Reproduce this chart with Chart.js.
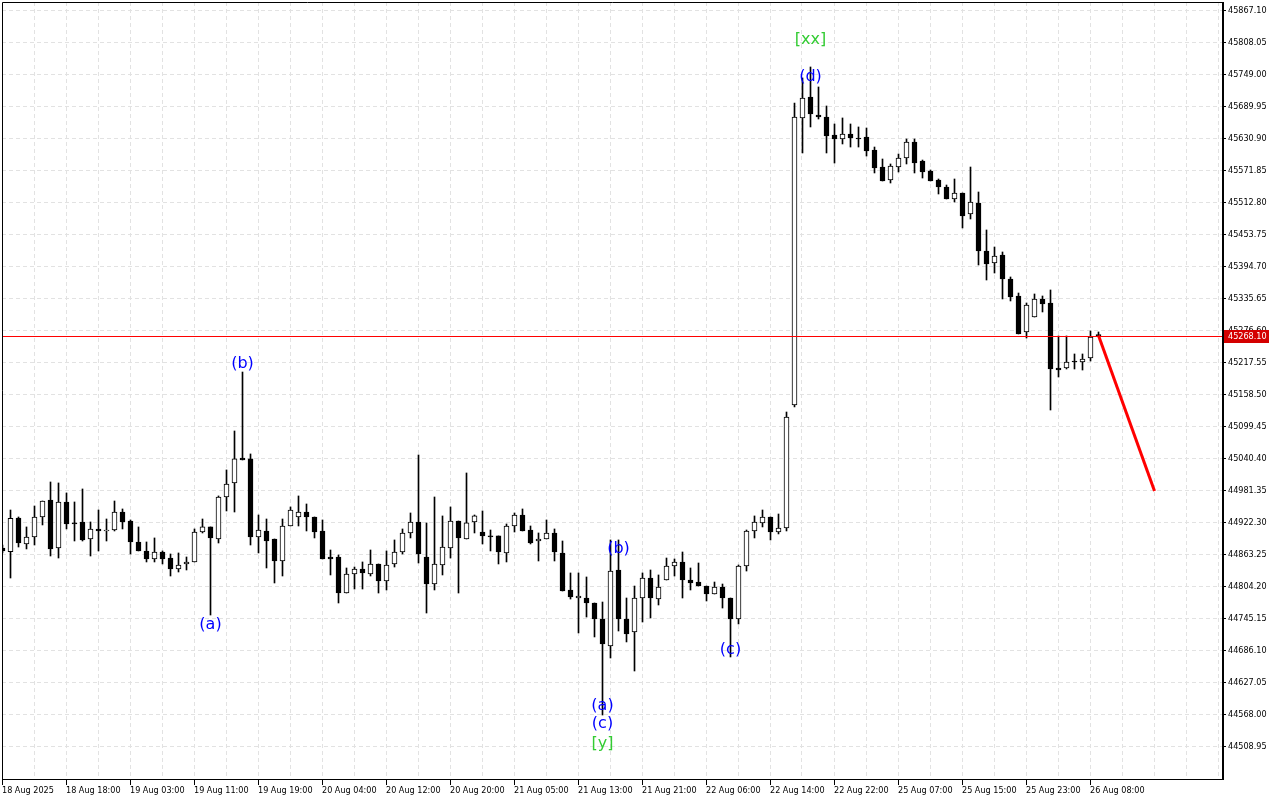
<!DOCTYPE html>
<html>
<head>
<meta charset="utf-8">
<script src="https://cdn.jsdelivr.net/npm/chart.js@4.4.1/dist/chart.umd.min.js"></script>
<style>
  html, body { margin: 0; padding: 0; background: #fff; }
  #wrap { width: 1280px; height: 800px; }
</style>
</head>
<body>
<div id="wrap"><canvas id="chart" width="1280" height="800"></canvas></div>
<script>
// H1 candles, one entry per bar (index 0 = left edge of the window)
const opens = [
  44876.2, 44869.4, 44931.6, 44883.6, 44896.5, 44933.4, 44964.8, 44876.2, 44961.1, 44922.4,
  44924.2, 44892.8, 44911.3, 44907.6, 44909.4, 44942.6, 44926.0, 44887.3, 44870.7, 44855.9,
  44868.8, 44857.7, 44837.4, 44846.7, 44850.4, 44905.7, 44915.0, 44892.8, 44970.3, 44996.2,
  45042.3, 45040.5, 44896.5, 44907.6, 44892.8, 44852.2, 44916.8, 44933.4, 44942.6, 44933.4,
  44907.6, 44859.6, 44859.6, 44793.1, 44828.2, 44837.4, 44828.2, 44846.7, 44815.3, 44846.7,
  44868.8, 44903.9, 44924.2, 44859.6, 44809.7, 44844.8, 44876.2, 44926.0, 44892.8, 44924.2,
  44905.7, 44898.4, 44898.4, 44867.0, 44916.8, 44937.1, 44909.4, 44889.1, 44892.8, 44903.9,
  44867.0, 44798.7, 44783.9, 44783.9, 44774.7, 44745.2, 44695.4, 44835.6, 44745.2, 44721.2,
  44783.9, 44820.8, 44782.0, 44817.1, 44843.0, 44850.4, 44817.1, 44813.4, 44806.0, 44791.3,
  44804.2, 44783.9, 44745.2, 44843.0, 44907.6, 44922.4, 44933.4, 44905.7, 44913.1, 45140.0,
  45669.7, 45708.4, 45675.2, 45671.5, 45638.3, 45630.9, 45640.1, 45632.7, 45634.6, 45610.6,
  45579.2, 45555.2, 45579.2, 45595.8, 45625.4, 45590.3, 45571.9, 45555.2, 45542.3, 45520.2,
  45531.3, 45492.5, 45512.8, 45424.2, 45402.1, 45416.9, 45372.6, 45341.2, 45274.8, 45302.4,
  45335.7, 45328.3, 45208.3, 45208.3, 45221.2, 45219.4, 45226.8, 45268.1
];
const highs = [
  44881.7, 44946.3, 44933.4, 44915.0, 44953.7, 44962.9, 44998.0, 44996.2, 44977.7, 44961.1,
  44985.1, 44924.2, 44946.3, 44929.7, 44962.9, 44948.2, 44927.9, 44915.0, 44887.3, 44894.7,
  44870.7, 44865.1, 44867.0, 44859.6, 44911.3, 44929.7, 44915.0, 44972.2, 45020.2, 45092.1,
  45200.9, 45049.7, 44937.1, 44929.7, 44892.8, 44929.7, 44951.9, 44972.2, 44957.4, 44933.4,
  44927.9, 44872.5, 44863.3, 44839.3, 44841.1, 44850.4, 44872.5, 44846.7, 44870.7, 44891.0,
  44911.3, 44940.8, 45047.8, 44922.4, 44970.3, 44935.3, 44951.9, 44926.0, 45014.6, 44937.1,
  44944.5, 44909.4, 44898.4, 44920.5, 44940.8, 44948.2, 44916.8, 44903.9, 44927.9, 44911.3,
  44889.1, 44830.1, 44830.1, 44822.7, 44774.7, 44776.5, 44891.0, 44891.0, 44783.9, 44806.0,
  44830.1, 44835.6, 44826.4, 44857.7, 44855.9, 44868.8, 44839.3, 44848.5, 44806.0, 44813.4,
  44809.7, 44783.9, 44844.8, 44909.4, 44935.3, 44946.3, 44933.4, 44938.9, 45127.1, 45697.3,
  45743.5, 45763.8, 45726.9, 45691.8, 45658.6, 45669.7, 45658.6, 45653.1, 45651.2, 45616.1,
  45594.0, 45584.8, 45603.2, 45630.9, 45630.9, 45592.1, 45573.7, 45557.1, 45546.0, 45557.1,
  45531.3, 45579.2, 45533.1, 45463.0, 45431.6, 45422.4, 45376.3, 45346.7, 45328.3, 45344.9,
  45341.2, 45352.3, 45267.4, 45267.4, 45234.2, 45234.2, 45276.6, 45274.8
];
const lows = [
  44867.0, 44820.8, 44878.0, 44874.4, 44881.7, 44918.7, 44861.4, 44857.7, 44911.3, 44889.1,
  44889.1, 44861.4, 44870.7, 44889.1, 44907.6, 44911.3, 44865.1, 44870.7, 44850.4, 44850.4,
  44846.7, 44824.5, 44831.9, 44835.6, 44850.4, 44903.9, 44752.5, 44885.4, 44944.5, 44942.6,
  45038.6, 44881.7, 44867.0, 44839.3, 44811.6, 44824.5, 44916.8, 44916.8, 44907.6, 44894.7,
  44855.9, 44826.4, 44774.7, 44793.1, 44800.5, 44800.5, 44824.5, 44793.1, 44798.7, 44841.1,
  44865.1, 44894.7, 44848.5, 44756.2, 44798.7, 44826.4, 44857.7, 44793.1, 44892.8, 44903.9,
  44883.6, 44870.7, 44846.7, 44850.4, 44905.7, 44907.6, 44883.6, 44852.2, 44892.8, 44852.2,
  44796.8, 44782.0, 44719.4, 44748.8, 44712.0, 44568.0, 44673.2, 44723.0, 44702.8, 44649.2,
  44739.6, 44747.0, 44771.0, 44817.1, 44824.5, 44783.9, 44798.7, 44806.0, 44778.4, 44791.3,
  44765.4, 44675.1, 44736.0, 44833.7, 44894.7, 44915.0, 44891.0, 44902.1, 44907.6, 45136.3,
  45605.1, 45653.1, 45667.8, 45605.1, 45586.6, 45621.7, 45616.1, 45616.1, 45599.5, 45568.2,
  45553.4, 45549.7, 45570.0, 45584.8, 45568.2, 45558.9, 45553.4, 45529.4, 45520.2, 45514.7,
  45466.7, 45483.3, 45398.4, 45370.7, 45383.6, 45335.7, 45332.0, 45271.1, 45263.7, 45302.4,
  45311.7, 45130.8, 45191.7, 45206.5, 45206.5, 45204.6, 45221.2, 45268.1
];
const closes = [
  44870.7, 44931.0, 44885.4, 44896.5, 44933.4, 44962.9, 44874.4, 44961.1, 44920.5, 44920.5,
  44891.0, 44911.3, 44907.6, 44909.4, 44942.6, 44924.2, 44887.3, 44870.7, 44855.9, 44868.8,
  44855.9, 44837.4, 44844.8, 44850.4, 44905.7, 44915.0, 44894.7, 44970.3, 44994.3, 45040.5,
  45038.6, 44896.5, 44909.4, 44889.1, 44852.2, 44916.8, 44946.3, 44942.6, 44933.4, 44905.7,
  44855.9, 44855.9, 44793.1, 44828.2, 44837.4, 44830.1, 44846.7, 44815.3, 44844.8, 44868.8,
  44903.9, 44924.2, 44865.1, 44809.7, 44846.7, 44878.0, 44926.0, 44894.7, 44922.4, 44935.3,
  44898.4, 44896.5, 44868.8, 44916.8, 44937.1, 44907.6, 44885.4, 44892.8, 44903.9, 44868.8,
  44796.8, 44785.7, 44787.6, 44774.7, 44745.2, 44699.1, 44833.7, 44745.2, 44717.5, 44783.9,
  44820.8, 44783.9, 44804.2, 44843.0, 44850.4, 44817.1, 44811.6, 44806.0, 44791.3, 44804.2,
  44783.9, 44745.2, 44843.0, 44907.6, 44924.2, 44933.4, 44905.7, 44913.1, 45117.9, 45671.5,
  45706.6, 45677.0, 45671.5, 45636.4, 45630.9, 45640.1, 45632.7, 45630.9, 45608.8, 45577.3,
  45553.4, 45581.1, 45595.8, 45625.4, 45586.6, 45570.0, 45553.4, 45542.3, 45520.2, 45531.3,
  45488.8, 45514.7, 45424.2, 45400.3, 45415.0, 45372.6, 45339.4, 45271.1, 45324.6, 45335.7,
  45326.4, 45206.5, 45204.6, 45219.4, 45219.4, 45224.9, 45265.5, 45268.1
];

// time axis labels, one every 8 bars
const tickLabels = [
  '18 Aug 2025', '18 Aug 18:00', '19 Aug 03:00', '19 Aug 11:00', '19 Aug 19:00', '20 Aug 04:00',
  '20 Aug 12:00', '20 Aug 20:00', '21 Aug 05:00', '21 Aug 13:00', '21 Aug 21:00', '22 Aug 06:00',
  '22 Aug 14:00', '22 Aug 22:00', '25 Aug 07:00', '25 Aug 15:00', '25 Aug 23:00', '26 Aug 08:00'
];
const priceTicks = [
  45867.10, 45808.05, 45749.00, 45689.95, 45630.90, 45571.85, 45512.80, 45453.75,
  45394.70, 45335.65, 45276.60, 45217.55, 45158.50, 45099.45, 45040.40, 44981.35,
  44922.30, 44863.25, 44804.20, 44745.15, 44686.10, 44627.05, 44568.00, 44508.95
];
const bidPrice = 45268.10;

// projected move (red arrow line)
const forecastBars = [137, 144];
const forecastPrices = [45268.1, 44981.4];

// wave marks
const waveTexts  = ['(a)', '(b)', '(a)', '(c)', '[y]', '(b)', '(c)', '(d)', '[xx]'];
const waveBars   = [26, 30, 75, 75, 75, 77, 91, 101, 101];
const wavePrices = [44734.1, 45216.6, 44584.7, 44551.4, 44515.4, 44874.4, 44688.9, 45746.2, 45813.6];

// ==========================================================================

const AXIS_FONT = { family: "'DejaVu Sans Condensed', 'DejaVu Sans', sans-serif", size: 9 };
const GRID_COLOR = '#e2e2e2';

const bodies = opens.map((o, i) => ({ x: i, y: [o, closes[i]] }));
const wicks = lows.map((l, i) => ({ x: i, y: [l, highs[i]] }));
const bodyFill = opens.map((o, i) => (closes[i] > o ? '#ffffff' : '#000000'));

// vertical grid every 4 bars, labels on every other one
const xGrid = [];
for (let v = -0.0625; v < 152.4375; v += 4) xGrid.push(v);
const hasLabel = (i) => i % 2 === 0 && i / 2 < tickLabels.length;

const overlay = {
  id: 'overlay',
  afterDatasetsDraw(chart) {
    const { ctx, chartArea: a, scales: { x, y } } = chart;
    ctx.save();
    const by = Math.round(y.getPixelForValue(bidPrice)) + 0.5;
    ctx.strokeStyle = '#ff0000';
    ctx.lineWidth = 1;
    ctx.beginPath();
    ctx.moveTo(a.left, by);
    ctx.lineTo(a.right, by);
    ctx.stroke();

    ctx.font = "16px 'DejaVu Sans', sans-serif";
    ctx.textAlign = 'center';
    ctx.textBaseline = 'middle';
    waveTexts.forEach((t, i) => {
      ctx.fillStyle = t[0] === '[' ? '#33cc33' : '#0000ff';
      ctx.fillText(t, x.getPixelForValue(waveBars[i]), y.getPixelForValue(wavePrices[i]));
    });
    ctx.restore();
  },
  afterDraw(chart) {
    const { ctx, chartArea: a, scales: { y } } = chart;
    ctx.save();
    // chart frame
    ctx.strokeStyle = '#000';
    ctx.lineWidth = 1;
    ctx.beginPath();
    ctx.moveTo(a.left + 0.5, a.bottom);
    ctx.lineTo(a.left + 0.5, a.top + 0.5);
    ctx.lineTo(a.right, a.top + 0.5);
    ctx.moveTo(a.left, a.bottom + 0.5);
    ctx.lineTo(a.right, a.bottom + 0.5);
    ctx.stroke();
    ctx.fillStyle = '#000';
    ctx.fillRect(a.right, a.top, 2, a.bottom - a.top + 1);

    // bid price tag
    const by = Math.round(y.getPixelForValue(bidPrice));
    ctx.fillStyle = '#d40000';
    ctx.fillRect(a.right + 2, by - 6, 45, 13);
    ctx.fillStyle = '#ffffff';
    ctx.font = "9px 'DejaVu Sans Condensed', 'DejaVu Sans', sans-serif";
    ctx.textAlign = 'left';
    ctx.textBaseline = 'middle';
    ctx.fillText(bidPrice.toFixed(2), a.right + 6, by + 0.5);
    ctx.restore();
  }
};

new Chart(document.getElementById('chart'), {
  type: 'bar',
  data: {
    datasets: [
      {
        type: 'line',
        data: forecastBars.map((b, i) => ({ x: b, y: forecastPrices[i] })),
        borderColor: '#ff0000',
        borderWidth: 3,
        pointRadius: 0,
        tension: 0,
        order: 0,
      },
      {
        data: bodies,
        backgroundColor: bodyFill,
        borderColor: '#000000',
        borderWidth: 1,
        borderSkipped: false,
        grouped: false,
        barThickness: 5,
        maxBarThickness: 5,
        minBarLength: 1,
        order: 1,
      },
      {
        data: wicks,
        backgroundColor: '#000000',
        borderWidth: 0,
        grouped: false,
        barThickness: 1,
        maxBarThickness: 1,
        order: 2,
      },
    ],
  },
  options: {
    responsive: false,
    animation: false,
    devicePixelRatio: 1,
    events: [],
    layout: { padding: { left: 2, top: 2, right: 0, bottom: 0 } },
    plugins: { legend: { display: false }, tooltip: { enabled: false } },
    scales: {
      x: {
        type: 'linear',
        min: -0.0625,
        max: 152.4375,
        bounds: 'data',
        offset: false,
        grid: {
          offset: false,
          color: GRID_COLOR,
          lineWidth: 1,
          tickLength: 6,
          tickColor: (c) => (hasLabel(c.index) ? '#000' : 'rgba(0,0,0,0)'),
          tickBorderDash: [],
        },
        border: { display: false, dash: [4, 3] },
        ticks: {
          autoSkip: false,
          maxRotation: 0,
          minRotation: 0,
          align: 'start',
          padding: 0,
          color: '#000',
          font: AXIS_FONT,
          callback: (v, i) => (hasLabel(i) ? tickLabels[i / 2] : ''),
        },
        afterBuildTicks: (s) => { s.ticks = xGrid.map((v) => ({ value: v })); },
        afterFit: (s) => {
          s.height = 21;
          s.paddingLeft = 0; s.paddingRight = 0; s.paddingTop = 0; s.paddingBottom = 0;
        },
      },
      y: {
        type: 'linear',
        position: 'right',
        min: 44449.9,
        max: 45883.7,
        bounds: 'data',
        beginAtZero: false,
        grid: {
          color: GRID_COLOR,
          lineWidth: 1,
          tickLength: 4,
          tickColor: '#000',
          tickBorderDash: [],
        },
        border: { display: false, dash: [4, 3] },
        ticks: {
          padding: 2,
          color: '#000',
          font: AXIS_FONT,
          callback: (v) => Number(v).toFixed(2),
        },
        afterBuildTicks: (s) => { s.ticks = priceTicks.map((v) => ({ value: v })); },
        afterFit: (s) => {
          s.width = 58;
          s.paddingLeft = 0; s.paddingRight = 0; s.paddingTop = 0; s.paddingBottom = 0;
        },
      },
    },
  },
  plugins: [overlay],
});
</script>
</body>
</html>
